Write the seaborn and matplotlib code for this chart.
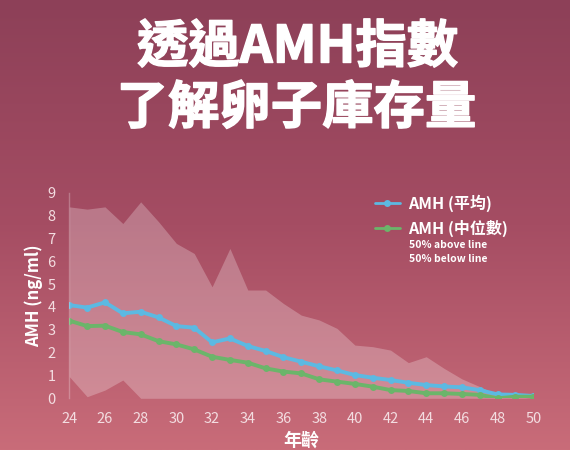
import numpy as np
import pandas as pd
import seaborn as sns
import matplotlib.pyplot as plt
import matplotlib.patheffects as pe
from matplotlib.colors import LinearSegmentedColormap

# ages on the x axis
ages = list(range(24, 51))

# mean AMH (blue)
amh_mean = [4.08, 3.97, 4.2, 3.72, 3.79, 3.54, 3.16, 3.09, 2.45, 2.62, 2.29, 2.07, 1.8,
            1.6, 1.4, 1.22, 1.02, 0.9, 0.8, 0.68, 0.58, 0.52, 0.48, 0.36, 0.17, 0.15, 0.1]
# median AMH (green)
amh_median = [3.4, 3.16, 3.18, 2.9, 2.8, 2.5, 2.36, 2.14, 1.82, 1.68, 1.56, 1.31, 1.17,
              1.09, 0.83, 0.73, 0.63, 0.51, 0.36, 0.32, 0.22, 0.22, 0.19, 0.15, 0.0, 0.07, 0.07]
# shaded range
band_hi = [8.38, 8.28, 8.38, 7.65, 8.6, 7.73, 6.78, 6.34, 4.88, 6.56, 4.74, 4.74, 4.15,
           3.64, 3.43, 3.06, 2.33, 2.26, 2.11, 1.56, 1.82, 1.31, 0.85, 0.51, 0.15, 0.07, 0.0]
band_lo = [0.95, 0.07, 0.36, 0.8, 0.0, 0.0, 0.0, 0.0, 0.0, 0.0, 0.0, 0.0, 0.0,
           0.0, 0.0, 0.0, 0.0, 0.0, 0.0, 0.0, 0.0, 0.0, 0.0, 0.0, 0.0, 0.0, 0.0]

x_ticks = list(range(24, 51, 2))
y_ticks = list(range(0, 10))

df = pd.DataFrame({"age": ages, "mean": amh_mean, "median": amh_median})

sns.set_theme(style="white")
plt.rcParams['font.family'] = ['Noto Sans CJK TC', 'DejaVu Sans']

fig = plt.figure(figsize=(5.7, 4.5), dpi=100)

# background gradient
bg = fig.add_axes([0, 0, 1, 1])
grad = np.linspace(0, 1, 256).reshape(-1, 1)
cmap = LinearSegmentedColormap.from_list("bg", ["#8d4058", "#a54d63", "#c96c79"])
bg.imshow(grad, aspect="auto", cmap=cmap, extent=[0, 1, 0, 1], origin="upper")
bg.axis("off")

thick = [pe.withStroke(linewidth=1, foreground="white")]
fig.text(0.522, 1 - 47 / 450, "透過AMH指數", ha="center", va="center", color="white",
         fontsize=37, fontweight="heavy", path_effects=thick)
fig.text(0.52, 1 - 108 / 450, "了解卵子庫存量", ha="center", va="center", color="white",
         fontsize=37, fontweight="heavy", path_effects=thick)

ax = fig.add_axes([69.3 / 570, 51.7 / 450, 464 / 570, 205.6 / 450])
ax.patch.set_alpha(0)

ax.fill_between(ages, band_lo, band_hi, color="white", alpha=0.25, linewidth=0)
sns.lineplot(data=df, x="age", y="mean", ax=ax, color="#5cb9e2", linewidth=2.8,
             marker="o", markersize=5, markeredgewidth=0, label="AMH (平均)")
sns.lineplot(data=df, x="age", y="median", ax=ax, color="#6bb56a", linewidth=2.8,
             marker="o", markersize=5, markeredgewidth=0, label="AMH (中位數)")

ax.set_xlim(24, 50)
ax.set_ylim(0, 9)
ax.set_xticks(x_ticks)
ax.set_yticks(y_ticks)
ax.tick_params(colors="#f3dde1", labelsize=10.5, length=0)
ax.tick_params(axis="x", pad=10)
ax.tick_params(axis="y", pad=10)
for s in ["top", "right", "bottom"]:
    ax.spines[s].set_visible(False)
ax.spines["left"].set_color((1, 1, 1, 0.25))
ax.spines["left"].set_linewidth(1)

ax.set_xlabel("年齡", color="white", fontsize=13, fontweight="bold", labelpad=3)
ax.set_ylabel("AMH (ng/ml)", color="white", fontsize=12, fontweight="bold", labelpad=3)

leg = ax.legend(loc="upper left", bbox_to_anchor=(0.627, 1.06), frameon=False,
                labelcolor="white", prop={"weight": "bold", "size": 11.5},
                handlelength=1.6, handletextpad=0.5, labelspacing=0.45)
for h in leg.get_lines():
    h.set_linewidth(2)
fig.text(409 / 570, 1 - 245 / 450, "50% above line", color="white", fontsize=7.5,
         fontweight="bold", va="center")
fig.text(409 / 570, 1 - 259 / 450, "50% below line", color="white", fontsize=7.5,
         fontweight="bold", va="center")

fig.savefig("out.png", dpi=100)
